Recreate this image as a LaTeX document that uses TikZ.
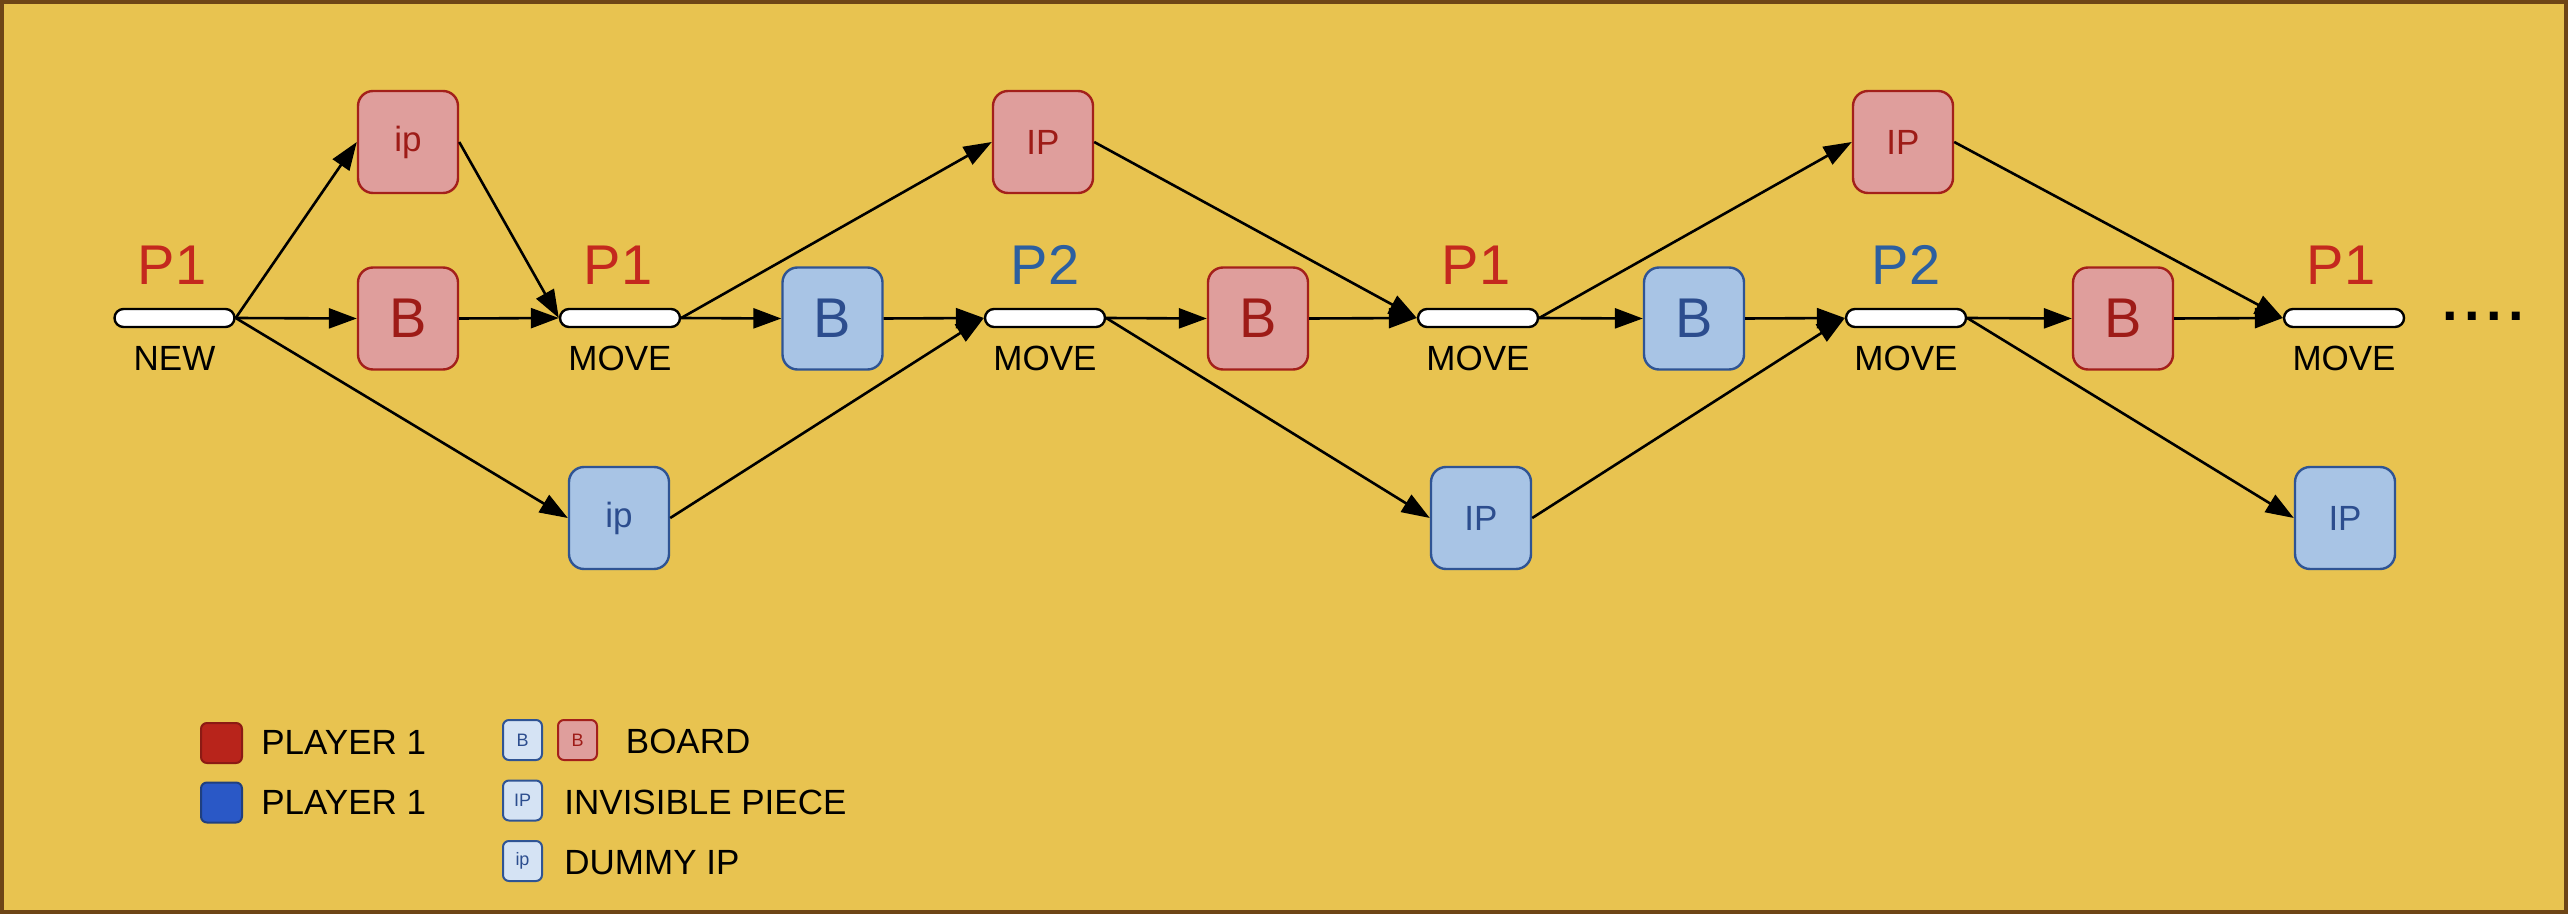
\documentclass[tikz,border=0pt]{standalone}
\usepackage{fontspec}
\setmainfont{Liberation Sans}
\usetikzlibrary{arrows.meta}
\definecolor{bg}{HTML}{E8C350}
\definecolor{framecol}{HTML}{6E4516}
\definecolor{redfill}{HTML}{DF9E9C}
\definecolor{redline}{HTML}{A3201B}
\definecolor{redtext}{HTML}{9E1B17}
\definecolor{bluefill}{HTML}{A8C4E5}
\definecolor{blueline}{HTML}{2F5494}
\definecolor{bluetext}{HTML}{2C4D8E}
\definecolor{ponecol}{HTML}{C4281E}
\definecolor{ptwocol}{HTML}{2C5FA0}
\definecolor{legred}{HTML}{B8241B}
\definecolor{legredline}{HTML}{8B1A14}
\definecolor{legblue}{HTML}{2A58C6}
\definecolor{legblueline}{HTML}{1F3F7F}
\definecolor{lightblue}{HTML}{D5E3F4}
\begin{document}
\begin{tikzpicture}[x=0.5pt,y=-0.5pt,
  bar/.style={draw=black, fill=white, line width=1.2pt, rounded corners=4.5pt, minimum width=60pt, minimum height=9pt, inner sep=0pt},
  redbox/.style={draw=redline, fill=redfill, line width=1.2pt, rounded corners=7.5pt, minimum width=50pt, minimum height=51pt, inner sep=0pt, text=redtext},
  bluebox/.style={draw=blueline, fill=bluefill, line width=1.2pt, rounded corners=7.5pt, minimum width=50pt, minimum height=51pt, inner sep=0pt, text=bluetext},
  big/.style={font=\fontsize{28}{30}\selectfont},
  mid/.style={font=\fontsize{17.5}{20}\selectfont},
  small/.style={font=\fontsize{9}{10}\selectfont},
  plabel/.style={big, anchor=base, inner sep=0pt},
  blabel/.style={mid, anchor=base, inner sep=0pt},
  arr/.style={-{Triangle[length=14pt,width=10pt]}, line width=1.3pt, draw=black},
  legsq/.style={line width=1pt, rounded corners=3pt, minimum width=20.5pt, minimum height=20pt, inner sep=0pt},
  legbox/.style={line width=1pt, rounded corners=3pt, minimum width=19.5pt, minimum height=20pt, inner sep=0pt, small},
  legtext/.style={mid, anchor=base west, inner sep=0pt}
]
\useasboundingbox (0,0) rectangle (2568,914);
\draw[fill=bg, draw=framecol, line width=2pt] (2,2) rectangle (2566,912);

% bars
\node[bar] (b0) at (174.5,318) {};
\node[bar] (b1) at (620,318) {};
\node[bar] (b2) at (1045,318) {};
\node[bar] (b3) at (1478,318) {};
\node[bar] (b4) at (1906,318) {};
\node[bar] (b5) at (2344,318) {};

% player labels
\node[plabel, text=ponecol] (p0) at (172,285) {P1};
\node[plabel, text=ponecol] (p1) at (618,285) {P1};
\node[plabel, text=ptwocol] (p2) at (1045,285) {P2};
\node[plabel, text=ponecol] (p3) at (1476,285) {P1};
\node[plabel, text=ptwocol] (p4) at (1906,285) {P2};
\node[plabel, text=ponecol] (p5) at (2341,285) {P1};

% action labels
\node[blabel] (l0) at (174.5,371) {NEW};
\node[blabel] (l1) at (620,371) {MOVE};
\node[blabel] (l2) at (1045,371) {MOVE};
\node[blabel] (l3) at (1478,371) {MOVE};
\node[blabel] (l4) at (1906,371) {MOVE};
\node[blabel] (l5) at (2344,371) {MOVE};

% boxes
\node[redbox, mid] (ipR) at (408,142) {ip};
\node[redbox, big] (BR1) at (408,318.5) {B};
\node[bluebox, mid] (ipB) at (619,518) {ip};
\node[bluebox, big] (BB1) at (832.5,318.5) {B};
\node[redbox, mid] (IPR2) at (1043,142) {IP};
\node[redbox, big] (BR2) at (1258,318.5) {B};
\node[bluebox, mid] (IPB2) at (1481,518) {IP};
\node[bluebox, big] (BB2) at (1694,318.5) {B};
\node[redbox, mid] (IPR3) at (1903,142) {IP};
\node[redbox, big] (BR3) at (2123,318.5) {B};
\node[bluebox, mid] (IPB3) at (2345,518) {IP};

% dots
\node[inner sep=0pt, font=\bfseries\fontsize{28}{30}\selectfont] (dots) at (2483,316) {.\kern3.2pt.\kern3.2pt.\kern3.2pt.};

% arrows
\draw[arr] (b0.east) -- (ipR.west);
\draw[arr] (b0.east) -- (BR1.west);
\draw[arr] (b0.east) -- (ipB.west);
\draw[arr] (ipR.east) -- (b1.west);
\draw[arr] (BR1.east) -- (b1.west);
\draw[arr] (b1.east) -- (IPR2.west);
\draw[arr] (b1.east) -- (BB1.west);
\draw[arr] (ipB.east) -- (b2.west);
\draw[arr] (BB1.east) -- (b2.west);
\draw[arr] (b2.east) -- (BR2.west);
\draw[arr] (b2.east) -- (IPB2.west);
\draw[arr] (IPR2.east) -- (b3.west);
\draw[arr] (BR2.east) -- (b3.west);
\draw[arr] (b3.east) -- (IPR3.west);
\draw[arr] (b3.east) -- (BB2.west);
\draw[arr] (IPB2.east) -- (b4.west);
\draw[arr] (BB2.east) -- (b4.west);
\draw[arr] (b4.east) -- (BR3.west);
\draw[arr] (b4.east) -- (IPB3.west);
\draw[arr] (IPR3.east) -- (b5.west);
\draw[arr] (BR3.east) -- (b5.west);

% legend
\node[legsq, fill=legred, draw=legredline] (lp1) at (221.5,743) {};
\node[legsq, fill=legblue, draw=legblueline] (lp2) at (221.5,802.5) {};
\node[legtext] (tp1) at (261,754) {PLAYER 1};
\node[legtext] (tp2) at (261,814) {PLAYER 1};
\node[legbox, fill=lightblue, draw=blueline, text=bluetext] (lbB) at (522.5,740) {B};
\node[legbox, fill=redfill, draw=redline, text=redtext] (lrB) at (577.5,740) {B};
\node[legtext] (tboard) at (625.5,753) {BOARD};
\node[legbox, fill=lightblue, draw=blueline, text=bluetext] (lIP) at (522.5,800.5) {IP};
\node[legtext] (tip) at (564,814) {INVISIBLE PIECE};
\node[legbox, fill=lightblue, draw=blueline, text=bluetext] (lip) at (522.5,861) {ip};
\node[legtext] (tdummy) at (564,874) {DUMMY IP};
\end{tikzpicture}
\end{document}
